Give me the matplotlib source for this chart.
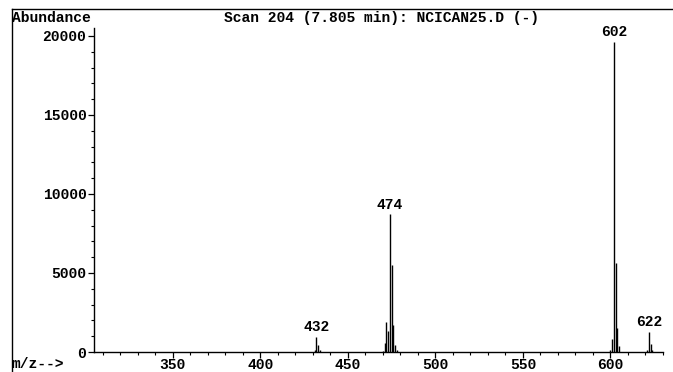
import matplotlib
matplotlib.use("Agg")
import matplotlib.pyplot as plt
from matplotlib.lines import Line2D
from matplotlib.ticker import MultipleLocator

# ---- data ----
mz = [311, 318, 330, 345, 360, 372, 388, 401, 415, 425,
      431, 432, 433, 434, 440, 452, 465,
      470, 471, 472, 473, 474, 475, 476, 477, 478,
      490, 505, 520, 540, 560, 580, 595,
      600, 601, 602, 603, 604, 605, 610, 618,
      621, 622, 623, 624]
abundance = [20, 15, 25, 15, 20, 15, 20, 15, 20, 25,
             150, 950, 420, 120, 20, 25, 15,
             60, 600, 1900, 1300, 8700, 5500, 1700, 450, 100,
             20, 15, 20, 15, 20, 15, 25,
             150, 800, 19600, 5600, 1500, 350, 30, 25,
             100, 1250, 500, 150]

labels_mz = [432, 474, 602, 622]
labels_ab = [950, 8700, 19600, 1250]

yticks = [0, 5000, 10000, 15000, 20000]
xticks = [350, 400, 450, 500, 550, 600]

title = "Scan 204 (7.805 min): NCICAN25.D (-)"
ylab = "Abundance"
xlab = "m/z-->"

FONT = "Liberation Mono"
FS = 10.5

fig = plt.figure(figsize=(6.73, 3.72), dpi=100)
ax = fig.add_axes([94/673, 20/372, (663-94)/673, (352-28)/372])

ax.vlines(mz, 0, abundance, colors="black", linewidth=1.0)

for m, a in zip(labels_mz, labels_ab):
    ax.annotate(str(m), (m, a), xytext=(0, 2), textcoords="offset points",
                ha="center", va="bottom", fontsize=FS, fontweight="bold",
                family=FONT)

ax.set_xlim(305, 630)
ax.set_ylim(0, 20500)
ax.set_xticks(xticks)
ax.set_yticks(yticks)
ax.xaxis.set_minor_locator(MultipleLocator(10))
ax.yaxis.set_minor_locator(MultipleLocator(1000))
ax.tick_params(axis="both", which="major", direction="out", length=4, width=0.9,
               labelsize=FS)
ax.tick_params(axis="x", which="major", pad=0.5)
ax.tick_params(axis="y", which="major", pad=1.5)
ax.tick_params(axis="both", which="minor", direction="out", length=2.5, width=0.8)
for lab in ax.get_xticklabels() + ax.get_yticklabels():
    lab.set_family(FONT)
    lab.set_fontweight("bold")

ax.spines["top"].set_visible(False)
ax.spines["right"].set_visible(False)
ax.spines["left"].set_linewidth(1.0)
ax.spines["bottom"].set_linewidth(1.0)

fig.text(12/673, 1 - 18/372, ylab, ha="left", va="center", fontsize=FS,
         fontweight="bold", family=FONT)
fig.text(382/673, 1 - 18/372, title, ha="center", va="center", fontsize=FS,
         fontweight="bold", family=FONT)
fig.text(12/673, 1 - 364/372, xlab, ha="left", va="center", fontsize=FS,
         fontweight="bold", family=FONT)

# scanned page border lines
fig.add_artist(Line2D([12/673, 1.0], [1 - 9/372, 1 - 9/372], color="black", linewidth=1.0))
fig.add_artist(Line2D([12/673, 12/673], [1 - 9/372, 0.0], color="black", linewidth=1.0))

fig.savefig("out.png", dpi=100)
